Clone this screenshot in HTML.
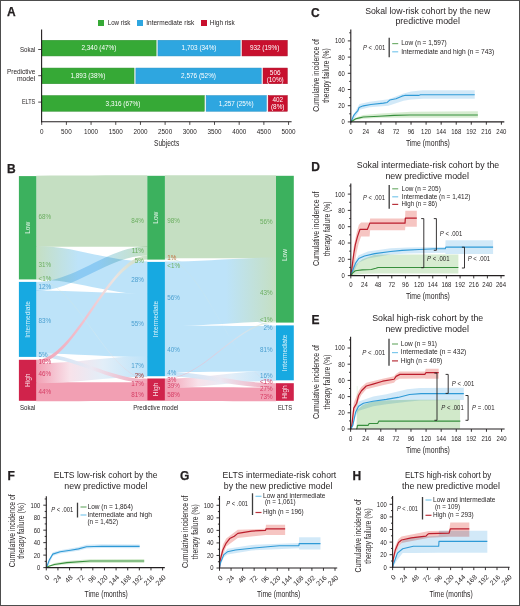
<!DOCTYPE html>
<html><head><meta charset="utf-8"><style>
html,body{margin:0;padding:0;background:#fff;}
svg{display:block;font-family:"Liberation Sans", sans-serif;}
</style></head><body>
<svg width="520" height="606" viewBox="0 0 520 606">
<defs><linearGradient id="g1" gradientUnits="userSpaceOnUse" x1="36.3" y1="0" x2="147.3" y2="0"><stop offset="0" stop-color="#c5dfc2"/><stop offset="1" stop-color="#c5dfc2"/></linearGradient><linearGradient id="g2" gradientUnits="userSpaceOnUse" x1="36.3" y1="0" x2="147.3" y2="0"><stop offset="0" stop-color="#bde3f9"/><stop offset="1" stop-color="#bde3f9"/></linearGradient><linearGradient id="g3" gradientUnits="userSpaceOnUse" x1="36.3" y1="0" x2="147.3" y2="0"><stop offset="0" stop-color="#f29fb3"/><stop offset="1" stop-color="#f29fb3"/></linearGradient><linearGradient id="g4" gradientUnits="userSpaceOnUse" x1="36.3" y1="0" x2="147.3" y2="0"><stop offset="0" stop-color="#c5dfc2"/><stop offset="0.38" stop-color="#bde3f9"/><stop offset="1" stop-color="#bde3f9"/></linearGradient><linearGradient id="g5" gradientUnits="userSpaceOnUse" x1="36.3" y1="0" x2="147.3" y2="0"><stop offset="0" stop-color="#bde3f9"/><stop offset="0.55" stop-color="#bde3f9"/><stop offset="1" stop-color="#c5dfc2"/></linearGradient><linearGradient id="g6" gradientUnits="userSpaceOnUse" x1="36.3" y1="0" x2="147.3" y2="0"><stop offset="0" stop-color="#f29fb3"/><stop offset="0.3" stop-color="#f8e2ea"/><stop offset="0.6" stop-color="#e2eef8"/><stop offset="1" stop-color="#bde3f9"/></linearGradient><linearGradient id="g7" gradientUnits="userSpaceOnUse" x1="36.3" y1="0" x2="147.3" y2="0"><stop offset="0" stop-color="#bde3f9"/><stop offset="0.5" stop-color="#ebe8f2"/><stop offset="1" stop-color="#f29fb3"/></linearGradient><linearGradient id="g8" gradientUnits="userSpaceOnUse" x1="36.3" y1="0" x2="147.3" y2="0"><stop offset="0" stop-color="#f29fb3"/><stop offset="0.45" stop-color="#f4c0cc"/><stop offset="0.7" stop-color="#eee4e0"/><stop offset="1" stop-color="#c5dfc2"/></linearGradient><linearGradient id="g9" gradientUnits="userSpaceOnUse" x1="36.3" y1="0" x2="147.3" y2="0"><stop offset="0" stop-color="#c5dfc2"/><stop offset="0.6" stop-color="#eeeee6"/><stop offset="1" stop-color="#f29fb3"/></linearGradient><linearGradient id="g10" gradientUnits="userSpaceOnUse" x1="164.9" y1="0" x2="276.0" y2="0"><stop offset="0" stop-color="#c5dfc2"/><stop offset="1" stop-color="#c5dfc2"/></linearGradient><linearGradient id="g11" gradientUnits="userSpaceOnUse" x1="164.9" y1="0" x2="276.0" y2="0"><stop offset="0" stop-color="#bde3f9"/><stop offset="1" stop-color="#bde3f9"/></linearGradient><linearGradient id="g12" gradientUnits="userSpaceOnUse" x1="164.9" y1="0" x2="276.0" y2="0"><stop offset="0" stop-color="#f29fb3"/><stop offset="1" stop-color="#f29fb3"/></linearGradient><linearGradient id="g13" gradientUnits="userSpaceOnUse" x1="164.9" y1="0" x2="276.0" y2="0"><stop offset="0" stop-color="#c5dfc2"/><stop offset="0.38" stop-color="#bde3f9"/><stop offset="1" stop-color="#bde3f9"/></linearGradient><linearGradient id="g14" gradientUnits="userSpaceOnUse" x1="164.9" y1="0" x2="276.0" y2="0"><stop offset="0" stop-color="#bde3f9"/><stop offset="0.55" stop-color="#bde3f9"/><stop offset="1" stop-color="#c5dfc2"/></linearGradient><linearGradient id="g15" gradientUnits="userSpaceOnUse" x1="164.9" y1="0" x2="276.0" y2="0"><stop offset="0" stop-color="#f29fb3"/><stop offset="0.3" stop-color="#f8e2ea"/><stop offset="0.6" stop-color="#e2eef8"/><stop offset="1" stop-color="#bde3f9"/></linearGradient><linearGradient id="g16" gradientUnits="userSpaceOnUse" x1="164.9" y1="0" x2="276.0" y2="0"><stop offset="0" stop-color="#bde3f9"/><stop offset="0.5" stop-color="#ebe8f2"/><stop offset="1" stop-color="#f29fb3"/></linearGradient><linearGradient id="g17" gradientUnits="userSpaceOnUse" x1="164.9" y1="0" x2="276.0" y2="0"><stop offset="0" stop-color="#f29fb3"/><stop offset="0.45" stop-color="#f4c0cc"/><stop offset="0.7" stop-color="#eee4e0"/><stop offset="1" stop-color="#c5dfc2"/></linearGradient><linearGradient id="g18" gradientUnits="userSpaceOnUse" x1="164.9" y1="0" x2="276.0" y2="0"><stop offset="0" stop-color="#c5dfc2"/><stop offset="0.6" stop-color="#eeeee6"/><stop offset="1" stop-color="#f29fb3"/></linearGradient></defs>
<rect x="0" y="0" width="520" height="606" fill="#fff"/>
<text x="7.00" y="16.30" font-size="12" fill="#231f20" text-anchor="start" font-weight="bold" stroke="#231f20" stroke-width="0.25">A</text>
<rect x="98" y="20" width="6" height="6" fill="#36a936"/>
<text x="107.70" y="25.40" font-size="6.8" fill="#231f20" text-anchor="start" textLength="22.70" lengthAdjust="spacingAndGlyphs">Low risk</text>
<rect x="137" y="20" width="6" height="6" fill="#2ea6e0"/>
<text x="146.20" y="25.40" font-size="6.8" fill="#231f20" text-anchor="start" textLength="48.20" lengthAdjust="spacingAndGlyphs">Intermediate risk</text>
<rect x="201" y="20" width="6" height="6" fill="#c8102e"/>
<text x="209.80" y="25.40" font-size="6.8" fill="#231f20" text-anchor="start" textLength="25.00" lengthAdjust="spacingAndGlyphs">High risk</text>
<rect x="41.70" y="40.25" width="114.43" height="15.7" fill="#36a936" stroke="#2e8f2e" stroke-width="0.5"/>
<text x="98.91" y="50.20" font-size="6.4" fill="#fff" text-anchor="middle" textLength="34.86" lengthAdjust="spacingAndGlyphs">2,340 (47%)</text>
<rect x="157.93" y="40.25" width="82.28" height="15.7" fill="#2ea6e0" stroke="#2590c4" stroke-width="0.5"/>
<text x="199.06" y="50.20" font-size="6.4" fill="#fff" text-anchor="middle" textLength="34.86" lengthAdjust="spacingAndGlyphs">1,703 (34%)</text>
<rect x="242.00" y="40.25" width="45.31" height="15.7" fill="#c8102e" stroke="#a80d27" stroke-width="0.5"/>
<text x="264.66" y="50.20" font-size="6.4" fill="#fff" text-anchor="middle" textLength="29.53" lengthAdjust="spacingAndGlyphs">932 (19%)</text>
<line x1="38.2" y1="49.5" x2="41.5" y2="49.5" stroke="#231f20" stroke-width="0.8"/>
<text x="35.30" y="51.70" font-size="7" fill="#231f20" text-anchor="end" textLength="15.40" lengthAdjust="spacingAndGlyphs">Sokal</text>
<rect x="41.70" y="68.05" width="92.36" height="15.7" fill="#36a936" stroke="#2e8f2e" stroke-width="0.5"/>
<text x="87.88" y="78.00" font-size="6.4" fill="#fff" text-anchor="middle" textLength="34.86" lengthAdjust="spacingAndGlyphs">1,893 (38%)</text>
<rect x="135.86" y="68.05" width="125.38" height="15.7" fill="#2ea6e0" stroke="#2590c4" stroke-width="0.5"/>
<text x="198.55" y="78.00" font-size="6.4" fill="#fff" text-anchor="middle" textLength="34.86" lengthAdjust="spacingAndGlyphs">2,576 (52%)</text>
<rect x="263.03" y="68.05" width="24.28" height="15.7" fill="#c8102e" stroke="#a80d27" stroke-width="0.5"/>
<text x="275.18" y="74.80" font-size="6.4" fill="#fff" text-anchor="middle">506</text>
<text x="275.18" y="81.80" font-size="6.4" fill="#fff" text-anchor="middle">(10%)</text>
<line x1="38.2" y1="75.7" x2="41.5" y2="75.7" stroke="#231f20" stroke-width="0.8"/>
<text x="35.40" y="73.90" font-size="7" fill="#231f20" text-anchor="end" textLength="28.50" lengthAdjust="spacingAndGlyphs">Predictive</text>
<text x="35.40" y="81.20" font-size="7" fill="#231f20" text-anchor="end" textLength="18.50" lengthAdjust="spacingAndGlyphs">model</text>
<rect x="41.70" y="95.55" width="162.61" height="15.7" fill="#36a936" stroke="#2e8f2e" stroke-width="0.5"/>
<text x="123.01" y="105.50" font-size="6.4" fill="#fff" text-anchor="middle" textLength="34.86" lengthAdjust="spacingAndGlyphs">3,316 (67%)</text>
<rect x="206.11" y="95.55" width="60.26" height="15.7" fill="#2ea6e0" stroke="#2590c4" stroke-width="0.5"/>
<text x="236.24" y="105.50" font-size="6.4" fill="#fff" text-anchor="middle" textLength="34.86" lengthAdjust="spacingAndGlyphs">1,257 (25%)</text>
<rect x="268.17" y="95.55" width="19.15" height="15.7" fill="#c8102e" stroke="#a80d27" stroke-width="0.5"/>
<text x="277.74" y="102.30" font-size="6.4" fill="#fff" text-anchor="middle">402</text>
<text x="277.74" y="109.30" font-size="6.4" fill="#fff" text-anchor="middle">(8%)</text>
<line x1="38.2" y1="102.1" x2="41.5" y2="102.1" stroke="#231f20" stroke-width="0.8"/>
<text x="35.30" y="103.80" font-size="7" fill="#231f20" text-anchor="end" textLength="13.40" lengthAdjust="spacingAndGlyphs">ELTS</text>
<line x1="41.6" y1="29.6" x2="41.6" y2="122.3" stroke="#231f20" stroke-width="1.1"/>
<line x1="41" y1="121.8" x2="291.6" y2="121.8" stroke="#231f20" stroke-width="1.1"/>
<line x1="41.70" y1="121.8" x2="41.70" y2="124.9" stroke="#231f20" stroke-width="0.8"/>
<text x="41.70" y="133.60" font-size="6.6" fill="#231f20" text-anchor="middle" textLength="3.52" lengthAdjust="spacingAndGlyphs">0</text>
<line x1="66.39" y1="121.8" x2="66.39" y2="124.9" stroke="#231f20" stroke-width="0.8"/>
<text x="66.39" y="133.60" font-size="6.6" fill="#231f20" text-anchor="middle" textLength="10.57" lengthAdjust="spacingAndGlyphs">500</text>
<line x1="91.07" y1="121.8" x2="91.07" y2="124.9" stroke="#231f20" stroke-width="0.8"/>
<text x="91.07" y="133.60" font-size="6.6" fill="#231f20" text-anchor="middle" textLength="14.09" lengthAdjust="spacingAndGlyphs">1000</text>
<line x1="115.75" y1="121.8" x2="115.75" y2="124.9" stroke="#231f20" stroke-width="0.8"/>
<text x="115.75" y="133.60" font-size="6.6" fill="#231f20" text-anchor="middle" textLength="14.09" lengthAdjust="spacingAndGlyphs">1500</text>
<line x1="140.44" y1="121.8" x2="140.44" y2="124.9" stroke="#231f20" stroke-width="0.8"/>
<text x="140.44" y="133.60" font-size="6.6" fill="#231f20" text-anchor="middle" textLength="14.09" lengthAdjust="spacingAndGlyphs">2000</text>
<line x1="165.12" y1="121.8" x2="165.12" y2="124.9" stroke="#231f20" stroke-width="0.8"/>
<text x="165.12" y="133.60" font-size="6.6" fill="#231f20" text-anchor="middle" textLength="14.09" lengthAdjust="spacingAndGlyphs">2500</text>
<line x1="189.81" y1="121.8" x2="189.81" y2="124.9" stroke="#231f20" stroke-width="0.8"/>
<text x="189.81" y="133.60" font-size="6.6" fill="#231f20" text-anchor="middle" textLength="14.09" lengthAdjust="spacingAndGlyphs">3000</text>
<line x1="214.50" y1="121.8" x2="214.50" y2="124.9" stroke="#231f20" stroke-width="0.8"/>
<text x="214.50" y="133.60" font-size="6.6" fill="#231f20" text-anchor="middle" textLength="14.09" lengthAdjust="spacingAndGlyphs">3500</text>
<line x1="239.18" y1="121.8" x2="239.18" y2="124.9" stroke="#231f20" stroke-width="0.8"/>
<text x="239.18" y="133.60" font-size="6.6" fill="#231f20" text-anchor="middle" textLength="14.09" lengthAdjust="spacingAndGlyphs">4000</text>
<line x1="263.87" y1="121.8" x2="263.87" y2="124.9" stroke="#231f20" stroke-width="0.8"/>
<text x="263.87" y="133.60" font-size="6.6" fill="#231f20" text-anchor="middle" textLength="14.09" lengthAdjust="spacingAndGlyphs">4500</text>
<line x1="288.55" y1="121.8" x2="288.55" y2="124.9" stroke="#231f20" stroke-width="0.8"/>
<text x="288.55" y="133.60" font-size="6.6" fill="#231f20" text-anchor="middle" textLength="14.09" lengthAdjust="spacingAndGlyphs">5000</text>
<text x="166.60" y="145.80" font-size="8.7" fill="#231f20" text-anchor="middle" textLength="25.20" lengthAdjust="spacingAndGlyphs">Subjects</text>
<text x="7.00" y="172.80" font-size="12" fill="#231f20" text-anchor="start" font-weight="bold" stroke="#231f20" stroke-width="0.25">B</text>
<path d="M36.3,175.65 C75.15,175.65 108.45,175.35 147.3,175.35 L147.3,246.64 C108.45,246.64 75.15,246.79 36.3,246.79 Z" fill="url(#g1)"/>
<path d="M36.3,290.45 C75.15,290.45 108.45,293.45 147.3,293.45 L147.3,357.22 C108.45,357.22 75.15,353.60 36.3,353.60 Z" fill="url(#g2)"/>
<path d="M36.3,382.31 C75.15,382.31 108.45,382.25 147.3,382.25 L147.3,401.05 C108.45,401.05 75.15,401.25 36.3,401.25 Z" fill="url(#g3)"/>
<path d="M36.3,245.89 C75.15,245.89 108.45,261.45 147.3,261.45 L147.3,294.35 C108.45,294.35 75.15,279.54 36.3,279.54 Z" fill="url(#g4)"/>
<path d="M36.3,281.90 C75.15,281.90 108.45,246.19 147.3,246.19 L147.3,255.41 C108.45,255.41 75.15,290.90 36.3,290.90 Z" fill="url(#g5)" style="mix-blend-mode:multiply"/>
<path d="M36.3,363.45 C75.15,363.45 108.45,356.32 147.3,356.32 L147.3,376.65 C108.45,376.65 75.15,383.21 36.3,383.21 Z" fill="url(#g6)"/>
<path d="M36.3,353.15 C75.15,353.15 108.45,378.94 147.3,378.94 L147.3,382.70 C108.45,382.70 75.15,356.90 36.3,356.90 Z" fill="url(#g7)" fill-opacity="0.95"/>
<path d="M36.3,359.80 C75.15,359.80 108.45,255.41 147.3,255.41 L147.3,259.60 C108.45,259.60 75.15,363.90 36.3,363.90 Z" fill="url(#g8)" fill-opacity="0.95"/>
<path d="M36.3,279.09 C75.15,279.09 108.45,378.50 147.3,378.50 L147.3,378.94 C108.45,378.94 75.15,279.40 36.3,279.40 Z" fill="url(#g9)" fill-opacity="0.55"/>
<path d="M164.9,175.35 C203.78,175.35 237.12,175.35 276.0,175.35 L276.0,258.46 C237.12,258.46 203.78,258.37 164.9,258.37 Z" fill="url(#g10)"/>
<path d="M164.9,325.46 C203.78,325.46 237.12,326.05 276.0,326.05 L276.0,371.42 C237.12,371.42 203.78,372.08 164.9,372.08 Z" fill="url(#g11)"/>
<path d="M164.9,387.33 C203.78,387.33 237.12,387.50 276.0,387.50 L276.0,401.25 C237.12,401.25 203.78,401.05 164.9,401.05 Z" fill="url(#g12)"/>
<path d="M164.9,257.92 C203.78,257.92 237.12,325.40 276.0,325.40 L276.0,326.50 C237.12,326.50 203.78,258.93 164.9,258.93 Z" fill="url(#g13)" fill-opacity="0.55"/>
<path d="M164.9,261.45 C203.78,261.45 237.12,257.56 276.0,257.56 L276.0,321.58 C237.12,321.58 203.78,326.36 164.9,326.36 Z" fill="url(#g14)"/>
<path d="M164.9,378.71 C203.78,378.71 237.12,370.52 276.0,370.52 L276.0,380.75 C237.12,380.75 203.78,388.23 164.9,388.23 Z" fill="url(#g15)"/>
<path d="M164.9,371.63 C203.78,371.63 237.12,383.29 276.0,383.29 L276.0,387.95 C237.12,387.95 203.78,376.20 164.9,376.20 Z" fill="url(#g16)" fill-opacity="0.95"/>
<path d="M164.9,378.50 C203.78,378.50 237.12,321.13 276.0,321.13 L276.0,322.60 C237.12,322.60 203.78,379.16 164.9,379.16 Z" fill="url(#g17)" fill-opacity="0.55"/>
<path d="M164.9,258.93 C203.78,258.93 237.12,383.20 276.0,383.20 L276.0,383.29 C237.12,383.29 203.78,259.60 164.9,259.60 Z" fill="url(#g18)" fill-opacity="0.55"/>
<rect x="18.9" y="176.1" width="17.40" height="103.30" fill="#3cb15e"/>
<text transform="translate(29.70,227.75) rotate(-90)" font-size="6.6" fill="#fff" fill-opacity="0.85" text-anchor="middle">Low</text>
<rect x="18.9" y="281.9" width="17.40" height="75.00" fill="#17a9e1"/>
<text transform="translate(29.70,319.40) rotate(-90)" font-size="6.6" fill="#fff" fill-opacity="0.85" text-anchor="middle">Intermediate</text>
<rect x="18.9" y="359.8" width="17.40" height="41.00" fill="#d0234b"/>
<text transform="translate(29.70,380.30) rotate(-90)" font-size="6.6" fill="#fff" fill-opacity="0.85" text-anchor="middle">High</text>
<rect x="147.3" y="175.8" width="17.60" height="83.80" fill="#3cb15e"/>
<text transform="translate(158.20,217.70) rotate(-90)" font-size="6.6" fill="#fff" fill-opacity="0.85" text-anchor="middle">Low</text>
<rect x="147.3" y="261.9" width="17.60" height="114.30" fill="#17a9e1"/>
<text transform="translate(158.20,319.05) rotate(-90)" font-size="6.6" fill="#fff" fill-opacity="0.85" text-anchor="middle">Intermediate</text>
<rect x="147.3" y="378.5" width="17.60" height="22.10" fill="#d0234b"/>
<text transform="translate(158.20,389.55) rotate(-90)" font-size="6.6" fill="#fff" fill-opacity="0.85" text-anchor="middle">High</text>
<rect x="276.0" y="175.8" width="17.80" height="146.80" fill="#3cb15e"/>
<text transform="translate(287.00,255.00) rotate(-90)" font-size="6.6" fill="#fff" fill-opacity="0.85" text-anchor="middle">Low</text>
<rect x="276.0" y="325.4" width="17.80" height="54.90" fill="#17a9e1"/>
<text transform="translate(287.00,352.85) rotate(-90)" font-size="6.6" fill="#fff" fill-opacity="0.85" text-anchor="middle">Intermediate</text>
<rect x="276.0" y="383.2" width="17.80" height="17.60" fill="#d0234b"/>
<text transform="translate(287.00,392.00) rotate(-90)" font-size="6.6" fill="#fff" fill-opacity="0.85" text-anchor="middle">High</text>
<text x="27.60" y="409.60" font-size="6.8" fill="#231f20" text-anchor="middle" textLength="15.31" lengthAdjust="spacingAndGlyphs">Sokal</text>
<text x="155.80" y="409.60" font-size="6.8" fill="#231f20" text-anchor="middle" textLength="45.24" lengthAdjust="spacingAndGlyphs">Predictive model</text>
<text x="285.00" y="409.60" font-size="6.8" fill="#231f20" text-anchor="middle" textLength="14.03" lengthAdjust="spacingAndGlyphs">ELTS</text>
<text x="38.60" y="218.70" font-size="6.3" fill="#6aae5f" text-anchor="start" textLength="12.61" lengthAdjust="spacingAndGlyphs">68%</text>
<text x="38.60" y="266.60" font-size="6.3" fill="#6aae5f" text-anchor="start" textLength="12.61" lengthAdjust="spacingAndGlyphs">31%</text>
<text x="38.60" y="281.40" font-size="6.3" fill="#6aae5f" text-anchor="start" textLength="12.79" lengthAdjust="spacingAndGlyphs">&lt;1%</text>
<text x="38.60" y="289.30" font-size="6.3" fill="#4a9fd0" text-anchor="start" textLength="12.61" lengthAdjust="spacingAndGlyphs">12%</text>
<text x="38.60" y="322.70" font-size="6.3" fill="#4a9fd0" text-anchor="start" textLength="12.61" lengthAdjust="spacingAndGlyphs">83%</text>
<text x="38.60" y="357.30" font-size="6.3" fill="#4a9fd0" text-anchor="start" textLength="9.11" lengthAdjust="spacingAndGlyphs">5%</text>
<text x="38.60" y="364.20" font-size="6.3" fill="#d63c63" text-anchor="start" textLength="12.61" lengthAdjust="spacingAndGlyphs">10%</text>
<text x="38.60" y="375.90" font-size="6.3" fill="#d63c63" text-anchor="start" textLength="12.61" lengthAdjust="spacingAndGlyphs">46%</text>
<text x="38.60" y="394.10" font-size="6.3" fill="#d63c63" text-anchor="start" textLength="12.61" lengthAdjust="spacingAndGlyphs">44%</text>
<text x="143.90" y="222.80" font-size="6.3" fill="#6aae5f" text-anchor="end" textLength="12.61" lengthAdjust="spacingAndGlyphs">84%</text>
<text x="143.90" y="252.50" font-size="6.3" fill="#6aae5f" text-anchor="end" textLength="12.14" lengthAdjust="spacingAndGlyphs">11%</text>
<text x="143.90" y="262.90" font-size="6.3" fill="#6aae5f" text-anchor="end" textLength="9.11" lengthAdjust="spacingAndGlyphs">5%</text>
<text x="143.90" y="282.20" font-size="6.3" fill="#4a9fd0" text-anchor="end" textLength="12.61" lengthAdjust="spacingAndGlyphs">28%</text>
<text x="143.90" y="325.60" font-size="6.3" fill="#4a9fd0" text-anchor="end" textLength="12.61" lengthAdjust="spacingAndGlyphs">55%</text>
<text x="143.90" y="368.10" font-size="6.3" fill="#4a9fd0" text-anchor="end" textLength="12.61" lengthAdjust="spacingAndGlyphs">17%</text>
<text x="143.90" y="377.60" font-size="6.3" fill="#a0322e" text-anchor="end" textLength="9.11" lengthAdjust="spacingAndGlyphs">2%</text>
<text x="143.90" y="385.70" font-size="6.3" fill="#d63c63" text-anchor="end" textLength="12.61" lengthAdjust="spacingAndGlyphs">17%</text>
<text x="143.90" y="396.70" font-size="6.3" fill="#d63c63" text-anchor="end" textLength="12.61" lengthAdjust="spacingAndGlyphs">81%</text>
<text x="167.30" y="223.30" font-size="6.3" fill="#6aae5f" text-anchor="start" textLength="12.61" lengthAdjust="spacingAndGlyphs">98%</text>
<text x="167.30" y="260.30" font-size="6.3" fill="#c07040" text-anchor="start" textLength="9.11" lengthAdjust="spacingAndGlyphs">1%</text>
<text x="167.30" y="267.90" font-size="6.3" fill="#6aae5f" text-anchor="start" textLength="12.79" lengthAdjust="spacingAndGlyphs">&lt;1%</text>
<text x="167.30" y="299.60" font-size="6.3" fill="#4a9fd0" text-anchor="start" textLength="12.61" lengthAdjust="spacingAndGlyphs">56%</text>
<text x="167.30" y="352.10" font-size="6.3" fill="#4a9fd0" text-anchor="start" textLength="12.61" lengthAdjust="spacingAndGlyphs">40%</text>
<text x="167.30" y="375.30" font-size="6.3" fill="#4a9fd0" text-anchor="start" textLength="9.11" lengthAdjust="spacingAndGlyphs">4%</text>
<text x="167.30" y="382.30" font-size="6.3" fill="#d63c63" text-anchor="start" textLength="9.11" lengthAdjust="spacingAndGlyphs">3%</text>
<text x="167.30" y="388.30" font-size="6.3" fill="#d63c63" text-anchor="start" textLength="12.61" lengthAdjust="spacingAndGlyphs">39%</text>
<text x="167.30" y="396.70" font-size="6.3" fill="#d63c63" text-anchor="start" textLength="12.61" lengthAdjust="spacingAndGlyphs">58%</text>
<text x="272.70" y="223.70" font-size="6.3" fill="#6aae5f" text-anchor="end" textLength="12.61" lengthAdjust="spacingAndGlyphs">56%</text>
<text x="272.70" y="294.90" font-size="6.3" fill="#6aae5f" text-anchor="end" textLength="12.61" lengthAdjust="spacingAndGlyphs">43%</text>
<text x="272.70" y="321.70" font-size="6.3" fill="#6aae5f" text-anchor="end" textLength="12.79" lengthAdjust="spacingAndGlyphs">&lt;1%</text>
<text x="272.70" y="330.20" font-size="6.3" fill="#4a9fd0" text-anchor="end" textLength="9.11" lengthAdjust="spacingAndGlyphs">2%</text>
<text x="272.70" y="351.80" font-size="6.3" fill="#4a9fd0" text-anchor="end" textLength="12.61" lengthAdjust="spacingAndGlyphs">81%</text>
<text x="272.70" y="377.60" font-size="6.3" fill="#4a9fd0" text-anchor="end" textLength="12.61" lengthAdjust="spacingAndGlyphs">16%</text>
<text x="272.70" y="384.20" font-size="6.3" fill="#d63c63" text-anchor="end" textLength="12.79" lengthAdjust="spacingAndGlyphs">&lt;1%</text>
<text x="272.70" y="391.10" font-size="6.3" fill="#d63c63" text-anchor="end" textLength="12.61" lengthAdjust="spacingAndGlyphs">27%</text>
<text x="272.70" y="399.00" font-size="6.3" fill="#d63c63" text-anchor="end" textLength="12.61" lengthAdjust="spacingAndGlyphs">73%</text>
<text x="311.00" y="16.50" font-size="12" fill="#231f20" text-anchor="start" font-weight="bold" stroke="#231f20" stroke-width="0.25">C</text>
<text x="427.70" y="14.30" font-size="9" fill="#231f20" text-anchor="middle" textLength="125.00" lengthAdjust="spacingAndGlyphs">Sokal low-risk cohort by the new</text>
<text x="427.70" y="24.30" font-size="9" fill="#231f20" text-anchor="middle" textLength="64.50" lengthAdjust="spacingAndGlyphs">predictive model</text>
<path d="M350.80,121.90 L353.31,115.42 L357.07,108.13 L359.59,104.08 L369.62,101.65 L388.45,99.22 L403.51,93.55 L411.04,91.53 L422.96,90.31 L474.73,90.31 L474.73,98.81 L422.96,98.81 L411.04,99.62 L403.51,100.84 L388.45,105.70 L369.62,107.32 L359.59,109.75 L357.07,114.61 L353.31,120.28 L350.80,121.90 Z" fill="#c3e2f6" fill-opacity="0.75" style="mix-blend-mode:multiply"/>
<path d="M350.80,121.90 L355.82,117.45 L363.35,115.02 L380.92,113.40 L411.04,111.78 L477.87,111.21 L477.87,117.85 L411.04,117.85 L380.92,117.85 L363.35,118.82 L355.82,119.88 L350.80,121.90 Z" fill="#c9e5c1" fill-opacity="0.75" style="mix-blend-mode:multiply"/>
<polyline points="350.80,121.90 352.06,119.47 353.31,116.23 354.25,114.61 355.82,112.99 357.70,110.97 358.96,107.73 359.59,107.32 363.35,105.86 370.88,104.48 383.43,103.11 387.19,102.46 389.70,100.03 395.98,98.81 401.94,96.14 404.76,95.41 418.57,95.41 420.45,94.77 474.73,94.77" fill="none" stroke="#2f9ad6" stroke-width="1.1" stroke-linejoin="round"/>
<polyline points="350.80,121.90 352.68,120.69 355.82,118.82 359.59,117.85 363.35,117.04 379.04,116.23 394.10,115.42 409.79,114.93 477.87,114.93" fill="none" stroke="#378f3d" stroke-width="1.1" stroke-linejoin="round"/>
<line x1="350.8" y1="29.6" x2="350.8" y2="122.4" stroke="#231f20" stroke-width="1.1"/>
<line x1="350.3" y1="121.9" x2="504.3" y2="121.9" stroke="#231f20" stroke-width="1.1"/>
<line x1="347.80" y1="121.90" x2="350.8" y2="121.90" stroke="#231f20" stroke-width="0.9"/>
<text x="344.90" y="124.30" font-size="6.7" fill="#231f20" text-anchor="end" textLength="3.28" lengthAdjust="spacingAndGlyphs">0</text>
<line x1="349.20" y1="113.80" x2="350.8" y2="113.80" stroke="#231f20" stroke-width="0.9"/>
<line x1="347.80" y1="105.70" x2="350.8" y2="105.70" stroke="#231f20" stroke-width="0.9"/>
<text x="344.90" y="108.10" font-size="6.7" fill="#231f20" text-anchor="end" textLength="6.56" lengthAdjust="spacingAndGlyphs">20</text>
<line x1="349.20" y1="97.60" x2="350.8" y2="97.60" stroke="#231f20" stroke-width="0.9"/>
<line x1="347.80" y1="89.50" x2="350.8" y2="89.50" stroke="#231f20" stroke-width="0.9"/>
<text x="344.90" y="91.90" font-size="6.7" fill="#231f20" text-anchor="end" textLength="6.56" lengthAdjust="spacingAndGlyphs">40</text>
<line x1="349.20" y1="81.40" x2="350.8" y2="81.40" stroke="#231f20" stroke-width="0.9"/>
<line x1="347.80" y1="73.30" x2="350.8" y2="73.30" stroke="#231f20" stroke-width="0.9"/>
<text x="344.90" y="75.70" font-size="6.7" fill="#231f20" text-anchor="end" textLength="6.56" lengthAdjust="spacingAndGlyphs">60</text>
<line x1="349.20" y1="65.20" x2="350.8" y2="65.20" stroke="#231f20" stroke-width="0.9"/>
<line x1="347.80" y1="57.10" x2="350.8" y2="57.10" stroke="#231f20" stroke-width="0.9"/>
<text x="344.90" y="59.50" font-size="6.7" fill="#231f20" text-anchor="end" textLength="6.56" lengthAdjust="spacingAndGlyphs">80</text>
<line x1="349.20" y1="49.00" x2="350.8" y2="49.00" stroke="#231f20" stroke-width="0.9"/>
<line x1="347.80" y1="40.90" x2="350.8" y2="40.90" stroke="#231f20" stroke-width="0.9"/>
<text x="344.90" y="43.30" font-size="6.7" fill="#231f20" text-anchor="end" textLength="9.84" lengthAdjust="spacingAndGlyphs">100</text>
<line x1="349.20" y1="32.80" x2="350.8" y2="32.80" stroke="#231f20" stroke-width="0.9"/>
<line x1="350.80" y1="121.9" x2="350.80" y2="124.70" stroke="#231f20" stroke-width="0.9"/>
<text x="350.80" y="133.60" font-size="6.7" fill="#231f20" text-anchor="middle" textLength="3.35" lengthAdjust="spacingAndGlyphs">0</text>
<line x1="365.86" y1="121.9" x2="365.86" y2="124.70" stroke="#231f20" stroke-width="0.9"/>
<text x="365.86" y="133.60" font-size="6.7" fill="#231f20" text-anchor="middle" textLength="6.71" lengthAdjust="spacingAndGlyphs">24</text>
<line x1="380.92" y1="121.9" x2="380.92" y2="124.70" stroke="#231f20" stroke-width="0.9"/>
<text x="380.92" y="133.60" font-size="6.7" fill="#231f20" text-anchor="middle" textLength="6.71" lengthAdjust="spacingAndGlyphs">48</text>
<line x1="395.98" y1="121.9" x2="395.98" y2="124.70" stroke="#231f20" stroke-width="0.9"/>
<text x="395.98" y="133.60" font-size="6.7" fill="#231f20" text-anchor="middle" textLength="6.71" lengthAdjust="spacingAndGlyphs">72</text>
<line x1="411.04" y1="121.9" x2="411.04" y2="124.70" stroke="#231f20" stroke-width="0.9"/>
<text x="411.04" y="133.60" font-size="6.7" fill="#231f20" text-anchor="middle" textLength="6.71" lengthAdjust="spacingAndGlyphs">96</text>
<line x1="426.10" y1="121.9" x2="426.10" y2="124.70" stroke="#231f20" stroke-width="0.9"/>
<text x="426.10" y="133.60" font-size="6.7" fill="#231f20" text-anchor="middle" textLength="10.06" lengthAdjust="spacingAndGlyphs">120</text>
<line x1="441.16" y1="121.9" x2="441.16" y2="124.70" stroke="#231f20" stroke-width="0.9"/>
<text x="441.16" y="133.60" font-size="6.7" fill="#231f20" text-anchor="middle" textLength="10.06" lengthAdjust="spacingAndGlyphs">144</text>
<line x1="456.22" y1="121.9" x2="456.22" y2="124.70" stroke="#231f20" stroke-width="0.9"/>
<text x="456.22" y="133.60" font-size="6.7" fill="#231f20" text-anchor="middle" textLength="10.06" lengthAdjust="spacingAndGlyphs">168</text>
<line x1="471.28" y1="121.9" x2="471.28" y2="124.70" stroke="#231f20" stroke-width="0.9"/>
<text x="471.28" y="133.60" font-size="6.7" fill="#231f20" text-anchor="middle" textLength="10.06" lengthAdjust="spacingAndGlyphs">192</text>
<line x1="486.34" y1="121.9" x2="486.34" y2="124.70" stroke="#231f20" stroke-width="0.9"/>
<text x="486.34" y="133.60" font-size="6.7" fill="#231f20" text-anchor="middle" textLength="10.06" lengthAdjust="spacingAndGlyphs">216</text>
<line x1="501.40" y1="121.9" x2="501.40" y2="124.70" stroke="#231f20" stroke-width="0.9"/>
<text x="501.40" y="133.60" font-size="6.7" fill="#231f20" text-anchor="middle" textLength="10.06" lengthAdjust="spacingAndGlyphs">240</text>
<text transform="translate(319.20,75.50) rotate(-90)" font-size="8.8" fill="#231f20" text-anchor="middle" textLength="72.7" lengthAdjust="spacingAndGlyphs">Cumulative incidence of</text>
<text transform="translate(329.20,75.50) rotate(-90)" font-size="8.8" fill="#231f20" text-anchor="middle" textLength="54.5" lengthAdjust="spacingAndGlyphs">therapy failure (%)</text>
<text x="427.90" y="145.60" font-size="8.4" fill="#231f20" text-anchor="middle" textLength="44.00" lengthAdjust="spacingAndGlyphs">Time (months)</text>
<text x="362.90" y="49.90" font-size="6.4" fill="#231f20" text-anchor="start" textLength="22.40" lengthAdjust="spacingAndGlyphs"><tspan font-style="italic">P</tspan> &lt; .001</text>
<line x1="389.2" y1="37.8" x2="389.2" y2="57.2" stroke="#3c3c3c" stroke-width="1.3"/>
<line x1="392.20" y1="43.60" x2="398.20" y2="43.60" stroke="#74b070" stroke-width="1.2"/>
<text x="401.20" y="45.40" font-size="6.4" fill="#231f20" text-anchor="start" textLength="45.50" lengthAdjust="spacingAndGlyphs">Low (n = 1,597)</text>
<line x1="392.20" y1="51.80" x2="398.20" y2="51.80" stroke="#7cc8ec" stroke-width="1.2"/>
<text x="401.20" y="53.60" font-size="6.4" fill="#231f20" text-anchor="start" textLength="93.10" lengthAdjust="spacingAndGlyphs">Intermediate and high (n = 743)</text>
<text x="311.30" y="170.70" font-size="12" fill="#231f20" text-anchor="start" font-weight="bold" stroke="#231f20" stroke-width="0.25">D</text>
<text x="428.00" y="168.30" font-size="9" fill="#231f20" text-anchor="middle" textLength="142.40" lengthAdjust="spacingAndGlyphs">Sokal intermediate-risk cohort by the</text>
<text x="427.20" y="178.70" font-size="9" fill="#231f20" text-anchor="middle" textLength="83.60" lengthAdjust="spacingAndGlyphs">new predictive model</text>
<path d="M350.80,275.60 L351.94,264.19 L353.65,247.08 L356.49,233.22 L358.77,225.07 L361.05,222.62 L369.58,222.62 L370.15,218.55 L405.04,218.55 L405.33,210.81 L416.82,210.81 L416.82,226.70 L405.33,226.70 L405.04,230.37 L370.15,230.37 L369.58,236.48 L361.05,236.48 L358.77,243.00 L356.49,252.78 L354.22,265.82 L352.51,275.60 L350.80,275.60 Z" fill="#f3b2ae" fill-opacity="0.75" style="mix-blend-mode:multiply"/>
<path d="M350.80,275.60 L353.08,266.63 L355.92,259.30 L358.77,255.23 L367.88,251.56 L390.64,248.30 L407.72,247.48 L445.28,247.08 L445.57,240.15 L493.09,240.15 L493.09,254.00 L445.57,254.00 L445.28,252.78 L407.72,253.60 L390.64,254.41 L367.88,258.49 L358.77,262.56 L355.92,267.45 L353.08,273.97 L350.80,275.60 Z" fill="#c3e2f6" fill-opacity="0.75" style="mix-blend-mode:multiply"/>
<path d="M350.80,275.60 L353.08,269.90 L356.21,264.19 L362.35,259.30 L374.71,254.82 L390.64,254.41 L458.37,254.41 L458.37,273.56 L378.12,273.56 L364.46,273.81 L356.49,274.38 L353.08,275.19 L350.80,275.60 Z" fill="#c9e5c1" fill-opacity="0.75" style="mix-blend-mode:multiply"/>
<polyline points="350.80,275.60 351.94,268.27 353.70,254.25 355.35,244.63 357.40,236.89 359.91,229.47 367.31,229.47 368.44,226.70 369.81,223.11 405.04,223.11 405.33,218.14 416.82,218.14" fill="none" stroke="#bb1d2c" stroke-width="1.2" stroke-linejoin="round"/>
<polyline points="350.80,275.60 352.51,270.71 355.92,262.56 358.77,258.49 364.46,256.04 374.71,253.60 390.64,251.56 402.03,250.34 419.10,249.52 436.18,248.71 445.28,248.71 445.85,247.08 493.09,247.08" fill="none" stroke="#2f9ad6" stroke-width="1.1" stroke-linejoin="round"/>
<polyline points="350.80,275.60 352.51,273.16 355.35,270.71 362.18,269.90 371.29,269.49 375.84,268.27 378.12,267.45 458.37,267.45" fill="none" stroke="#378f3d" stroke-width="1.1" stroke-linejoin="round"/>
<line x1="350.8" y1="183.6" x2="350.8" y2="276.1" stroke="#231f20" stroke-width="1.1"/>
<line x1="350.3" y1="275.6" x2="504.6" y2="275.6" stroke="#231f20" stroke-width="1.1"/>
<line x1="347.80" y1="275.60" x2="350.8" y2="275.60" stroke="#231f20" stroke-width="0.9"/>
<text x="344.90" y="278.00" font-size="6.7" fill="#231f20" text-anchor="end" textLength="3.28" lengthAdjust="spacingAndGlyphs">0</text>
<line x1="349.20" y1="267.45" x2="350.8" y2="267.45" stroke="#231f20" stroke-width="0.9"/>
<line x1="347.80" y1="259.30" x2="350.8" y2="259.30" stroke="#231f20" stroke-width="0.9"/>
<text x="344.90" y="261.70" font-size="6.7" fill="#231f20" text-anchor="end" textLength="6.56" lengthAdjust="spacingAndGlyphs">20</text>
<line x1="349.20" y1="251.15" x2="350.8" y2="251.15" stroke="#231f20" stroke-width="0.9"/>
<line x1="347.80" y1="243.00" x2="350.8" y2="243.00" stroke="#231f20" stroke-width="0.9"/>
<text x="344.90" y="245.40" font-size="6.7" fill="#231f20" text-anchor="end" textLength="6.56" lengthAdjust="spacingAndGlyphs">40</text>
<line x1="349.20" y1="234.85" x2="350.8" y2="234.85" stroke="#231f20" stroke-width="0.9"/>
<line x1="347.80" y1="226.70" x2="350.8" y2="226.70" stroke="#231f20" stroke-width="0.9"/>
<text x="344.90" y="229.10" font-size="6.7" fill="#231f20" text-anchor="end" textLength="6.56" lengthAdjust="spacingAndGlyphs">60</text>
<line x1="349.20" y1="218.55" x2="350.8" y2="218.55" stroke="#231f20" stroke-width="0.9"/>
<line x1="347.80" y1="210.40" x2="350.8" y2="210.40" stroke="#231f20" stroke-width="0.9"/>
<text x="344.90" y="212.80" font-size="6.7" fill="#231f20" text-anchor="end" textLength="6.56" lengthAdjust="spacingAndGlyphs">80</text>
<line x1="349.20" y1="202.25" x2="350.8" y2="202.25" stroke="#231f20" stroke-width="0.9"/>
<line x1="347.80" y1="194.10" x2="350.8" y2="194.10" stroke="#231f20" stroke-width="0.9"/>
<text x="344.90" y="196.50" font-size="6.7" fill="#231f20" text-anchor="end" textLength="9.84" lengthAdjust="spacingAndGlyphs">100</text>
<line x1="349.20" y1="185.95" x2="350.8" y2="185.95" stroke="#231f20" stroke-width="0.9"/>
<line x1="350.80" y1="275.6" x2="350.80" y2="278.40" stroke="#231f20" stroke-width="0.9"/>
<text x="350.80" y="287.30" font-size="6.7" fill="#231f20" text-anchor="middle" textLength="3.35" lengthAdjust="spacingAndGlyphs">0</text>
<line x1="364.46" y1="275.6" x2="364.46" y2="278.40" stroke="#231f20" stroke-width="0.9"/>
<text x="364.46" y="287.30" font-size="6.7" fill="#231f20" text-anchor="middle" textLength="6.71" lengthAdjust="spacingAndGlyphs">24</text>
<line x1="378.12" y1="275.6" x2="378.12" y2="278.40" stroke="#231f20" stroke-width="0.9"/>
<text x="378.12" y="287.30" font-size="6.7" fill="#231f20" text-anchor="middle" textLength="6.71" lengthAdjust="spacingAndGlyphs">48</text>
<line x1="391.78" y1="275.6" x2="391.78" y2="278.40" stroke="#231f20" stroke-width="0.9"/>
<text x="391.78" y="287.30" font-size="6.7" fill="#231f20" text-anchor="middle" textLength="6.71" lengthAdjust="spacingAndGlyphs">72</text>
<line x1="405.44" y1="275.6" x2="405.44" y2="278.40" stroke="#231f20" stroke-width="0.9"/>
<text x="405.44" y="287.30" font-size="6.7" fill="#231f20" text-anchor="middle" textLength="6.71" lengthAdjust="spacingAndGlyphs">96</text>
<line x1="419.10" y1="275.6" x2="419.10" y2="278.40" stroke="#231f20" stroke-width="0.9"/>
<text x="419.10" y="287.30" font-size="6.7" fill="#231f20" text-anchor="middle" textLength="10.06" lengthAdjust="spacingAndGlyphs">120</text>
<line x1="432.76" y1="275.6" x2="432.76" y2="278.40" stroke="#231f20" stroke-width="0.9"/>
<text x="432.76" y="287.30" font-size="6.7" fill="#231f20" text-anchor="middle" textLength="10.06" lengthAdjust="spacingAndGlyphs">144</text>
<line x1="446.42" y1="275.6" x2="446.42" y2="278.40" stroke="#231f20" stroke-width="0.9"/>
<text x="446.42" y="287.30" font-size="6.7" fill="#231f20" text-anchor="middle" textLength="10.06" lengthAdjust="spacingAndGlyphs">168</text>
<line x1="460.08" y1="275.6" x2="460.08" y2="278.40" stroke="#231f20" stroke-width="0.9"/>
<text x="460.08" y="287.30" font-size="6.7" fill="#231f20" text-anchor="middle" textLength="10.06" lengthAdjust="spacingAndGlyphs">192</text>
<line x1="473.74" y1="275.6" x2="473.74" y2="278.40" stroke="#231f20" stroke-width="0.9"/>
<text x="473.74" y="287.30" font-size="6.7" fill="#231f20" text-anchor="middle" textLength="10.06" lengthAdjust="spacingAndGlyphs">216</text>
<line x1="487.40" y1="275.6" x2="487.40" y2="278.40" stroke="#231f20" stroke-width="0.9"/>
<text x="487.40" y="287.30" font-size="6.7" fill="#231f20" text-anchor="middle" textLength="10.06" lengthAdjust="spacingAndGlyphs">240</text>
<line x1="501.06" y1="275.6" x2="501.06" y2="278.40" stroke="#231f20" stroke-width="0.9"/>
<text x="501.06" y="287.30" font-size="6.7" fill="#231f20" text-anchor="middle" textLength="10.06" lengthAdjust="spacingAndGlyphs">264</text>
<text transform="translate(319.40,228.80) rotate(-90)" font-size="8.8" fill="#231f20" text-anchor="middle" textLength="74.4" lengthAdjust="spacingAndGlyphs">Cumulative incidence of</text>
<text transform="translate(329.80,228.80) rotate(-90)" font-size="8.8" fill="#231f20" text-anchor="middle" textLength="54.5" lengthAdjust="spacingAndGlyphs">therapy failure (%)</text>
<text x="427.90" y="299.40" font-size="8.4" fill="#231f20" text-anchor="middle" textLength="44.00" lengthAdjust="spacingAndGlyphs">Time (months)</text>
<text x="363.00" y="199.60" font-size="6.4" fill="#231f20" text-anchor="start" textLength="22.00" lengthAdjust="spacingAndGlyphs"><tspan font-style="italic">P</tspan> &lt; .001</text>
<line x1="389.2" y1="185.0" x2="389.2" y2="208.8" stroke="#3c3c3c" stroke-width="1.3"/>
<line x1="392.20" y1="188.80" x2="398.20" y2="188.80" stroke="#74b070" stroke-width="1.2"/>
<text x="401.60" y="190.60" font-size="6.4" fill="#231f20" text-anchor="start" textLength="39.20" lengthAdjust="spacingAndGlyphs">Low (n = 205)</text>
<line x1="392.20" y1="196.80" x2="398.20" y2="196.80" stroke="#7cc8ec" stroke-width="1.2"/>
<text x="401.60" y="198.60" font-size="6.4" fill="#231f20" text-anchor="start" textLength="68.80" lengthAdjust="spacingAndGlyphs">Intermediate (n = 1,412)</text>
<line x1="392.20" y1="204.40" x2="398.20" y2="204.40" stroke="#b8323c" stroke-width="1.2"/>
<text x="401.60" y="206.20" font-size="6.4" fill="#231f20" text-anchor="start" textLength="35.40" lengthAdjust="spacingAndGlyphs">High (n = 86)</text>
<path d="M421.20,218.60 H423.80 V267.70 H421.20" fill="none" stroke="#231f20" stroke-width="0.9"/>
<path d="M433.80,218.60 H436.40 V250.30 H433.80" fill="none" stroke="#231f20" stroke-width="0.9"/>
<path d="M461.90,247.20 H464.50 V268.00 H461.90" fill="none" stroke="#231f20" stroke-width="0.9"/>
<text x="439.80" y="236.20" font-size="7.0" fill="#231f20" text-anchor="start" textLength="22.50" lengthAdjust="spacingAndGlyphs"><tspan font-style="italic">P</tspan> &lt; .001</text>
<text x="427.00" y="261.20" font-size="7.0" fill="#231f20" text-anchor="start" textLength="22.50" lengthAdjust="spacingAndGlyphs"><tspan font-style="italic">P</tspan> &lt; .001</text>
<text x="467.70" y="261.20" font-size="7.0" fill="#231f20" text-anchor="start" textLength="22.50" lengthAdjust="spacingAndGlyphs"><tspan font-style="italic">P</tspan> &lt; .001</text>
<text x="311.60" y="323.80" font-size="12" fill="#231f20" text-anchor="start" font-weight="bold" stroke="#231f20" stroke-width="0.25">E</text>
<text x="427.70" y="321.30" font-size="9" fill="#231f20" text-anchor="middle" textLength="111.00" lengthAdjust="spacingAndGlyphs">Sokal high-risk cohort by the</text>
<text x="427.20" y="332.00" font-size="9" fill="#231f20" text-anchor="middle" textLength="83.60" lengthAdjust="spacingAndGlyphs">new predictive model</text>
<path d="M350.60,429.00 L356.58,429.00 L356.89,386.07 L357.27,386.07 L357.52,409.56 L363.18,404.70 L373.24,401.46 L388.34,400.25 L413.50,399.84 L460.05,399.84 L460.05,429.00 L356.89,429.00 L350.60,429.00 Z" fill="#c9e5c1" fill-opacity="0.85" style="mix-blend-mode:multiply"/>
<path d="M350.60,429.00 L352.49,420.90 L355.63,409.56 L358.78,401.46 L373.24,396.60 L386.45,394.17 L407.21,389.31 L419.79,388.10 L463.82,387.85 L463.82,400.08 L419.79,400.41 L407.21,401.87 L386.45,404.30 L373.24,406.32 L358.78,410.77 L355.63,416.04 L352.49,428.19 L350.60,429.00 Z" fill="#c3e2f6" fill-opacity="0.75" style="mix-blend-mode:multiply"/>
<path d="M350.60,429.00 L351.86,420.90 L353.75,403.08 L358.59,390.93 L361.29,386.88 L366.33,382.83 L382.68,378.78 L394.00,376.35 L395.89,373.92 L399.66,371.49 L424.82,371.49 L425.89,368.65 L438.66,368.65 L438.66,378.78 L425.89,378.78 L424.82,378.38 L399.66,378.78 L395.89,380.40 L394.00,382.83 L382.68,385.26 L366.33,389.31 L361.29,394.98 L358.59,400.65 L353.75,414.42 L351.86,429.00 L350.60,429.00 Z" fill="#f3b2ae" fill-opacity="0.75" style="mix-blend-mode:multiply"/>
<polyline points="350.60,429.00 351.86,425.36 353.75,408.10 356.64,403.24 358.59,395.55 361.48,390.77 366.26,385.99 372.99,384.05 382.62,381.21 394.13,379.27 396.08,376.35 399.91,374.41 424.82,374.41 425.89,372.70 438.66,372.70" fill="none" stroke="#bb1d2c" stroke-width="1.2" stroke-linejoin="round"/>
<polyline points="350.60,429.00 352.80,425.36 355.69,411.91 358.59,406.16 363.37,403.24 372.99,401.30 386.45,399.35 398.03,397.41 409.54,394.57 421.05,393.60 463.82,393.60" fill="none" stroke="#2f9ad6" stroke-width="1.1" stroke-linejoin="round"/>
<polyline points="356.26,429.00 356.89,428.60 357.52,425.36 368.21,425.36 369.16,423.49 377.65,423.49 378.78,421.14 460.30,421.14" fill="none" stroke="#378f3d" stroke-width="1.1" stroke-linejoin="round"/>
<line x1="350.6" y1="336.7" x2="350.6" y2="429.5" stroke="#231f20" stroke-width="1.1"/>
<line x1="350.1" y1="429.0" x2="504.6" y2="429.0" stroke="#231f20" stroke-width="1.1"/>
<line x1="347.60" y1="429.00" x2="350.6" y2="429.00" stroke="#231f20" stroke-width="0.9"/>
<text x="344.70" y="431.40" font-size="6.7" fill="#231f20" text-anchor="end" textLength="3.28" lengthAdjust="spacingAndGlyphs">0</text>
<line x1="349.00" y1="420.90" x2="350.6" y2="420.90" stroke="#231f20" stroke-width="0.9"/>
<line x1="347.60" y1="412.80" x2="350.6" y2="412.80" stroke="#231f20" stroke-width="0.9"/>
<text x="344.70" y="415.20" font-size="6.7" fill="#231f20" text-anchor="end" textLength="6.56" lengthAdjust="spacingAndGlyphs">20</text>
<line x1="349.00" y1="404.70" x2="350.6" y2="404.70" stroke="#231f20" stroke-width="0.9"/>
<line x1="347.60" y1="396.60" x2="350.6" y2="396.60" stroke="#231f20" stroke-width="0.9"/>
<text x="344.70" y="399.00" font-size="6.7" fill="#231f20" text-anchor="end" textLength="6.56" lengthAdjust="spacingAndGlyphs">40</text>
<line x1="349.00" y1="388.50" x2="350.6" y2="388.50" stroke="#231f20" stroke-width="0.9"/>
<line x1="347.60" y1="380.40" x2="350.6" y2="380.40" stroke="#231f20" stroke-width="0.9"/>
<text x="344.70" y="382.80" font-size="6.7" fill="#231f20" text-anchor="end" textLength="6.56" lengthAdjust="spacingAndGlyphs">60</text>
<line x1="349.00" y1="372.30" x2="350.6" y2="372.30" stroke="#231f20" stroke-width="0.9"/>
<line x1="347.60" y1="364.20" x2="350.6" y2="364.20" stroke="#231f20" stroke-width="0.9"/>
<text x="344.70" y="366.60" font-size="6.7" fill="#231f20" text-anchor="end" textLength="6.56" lengthAdjust="spacingAndGlyphs">80</text>
<line x1="349.00" y1="356.10" x2="350.6" y2="356.10" stroke="#231f20" stroke-width="0.9"/>
<line x1="347.60" y1="348.00" x2="350.6" y2="348.00" stroke="#231f20" stroke-width="0.9"/>
<text x="344.70" y="350.40" font-size="6.7" fill="#231f20" text-anchor="end" textLength="9.84" lengthAdjust="spacingAndGlyphs">100</text>
<line x1="349.00" y1="339.90" x2="350.6" y2="339.90" stroke="#231f20" stroke-width="0.9"/>
<line x1="350.60" y1="429.0" x2="350.60" y2="431.80" stroke="#231f20" stroke-width="0.9"/>
<text x="350.60" y="440.70" font-size="6.7" fill="#231f20" text-anchor="middle" textLength="3.35" lengthAdjust="spacingAndGlyphs">0</text>
<line x1="365.70" y1="429.0" x2="365.70" y2="431.80" stroke="#231f20" stroke-width="0.9"/>
<text x="365.70" y="440.70" font-size="6.7" fill="#231f20" text-anchor="middle" textLength="6.71" lengthAdjust="spacingAndGlyphs">24</text>
<line x1="380.79" y1="429.0" x2="380.79" y2="431.80" stroke="#231f20" stroke-width="0.9"/>
<text x="380.79" y="440.70" font-size="6.7" fill="#231f20" text-anchor="middle" textLength="6.71" lengthAdjust="spacingAndGlyphs">48</text>
<line x1="395.89" y1="429.0" x2="395.89" y2="431.80" stroke="#231f20" stroke-width="0.9"/>
<text x="395.89" y="440.70" font-size="6.7" fill="#231f20" text-anchor="middle" textLength="6.71" lengthAdjust="spacingAndGlyphs">72</text>
<line x1="410.98" y1="429.0" x2="410.98" y2="431.80" stroke="#231f20" stroke-width="0.9"/>
<text x="410.98" y="440.70" font-size="6.7" fill="#231f20" text-anchor="middle" textLength="6.71" lengthAdjust="spacingAndGlyphs">96</text>
<line x1="426.08" y1="429.0" x2="426.08" y2="431.80" stroke="#231f20" stroke-width="0.9"/>
<text x="426.08" y="440.70" font-size="6.7" fill="#231f20" text-anchor="middle" textLength="10.06" lengthAdjust="spacingAndGlyphs">120</text>
<line x1="441.18" y1="429.0" x2="441.18" y2="431.80" stroke="#231f20" stroke-width="0.9"/>
<text x="441.18" y="440.70" font-size="6.7" fill="#231f20" text-anchor="middle" textLength="10.06" lengthAdjust="spacingAndGlyphs">144</text>
<line x1="456.27" y1="429.0" x2="456.27" y2="431.80" stroke="#231f20" stroke-width="0.9"/>
<text x="456.27" y="440.70" font-size="6.7" fill="#231f20" text-anchor="middle" textLength="10.06" lengthAdjust="spacingAndGlyphs">168</text>
<line x1="471.37" y1="429.0" x2="471.37" y2="431.80" stroke="#231f20" stroke-width="0.9"/>
<text x="471.37" y="440.70" font-size="6.7" fill="#231f20" text-anchor="middle" textLength="10.06" lengthAdjust="spacingAndGlyphs">192</text>
<line x1="486.46" y1="429.0" x2="486.46" y2="431.80" stroke="#231f20" stroke-width="0.9"/>
<text x="486.46" y="440.70" font-size="6.7" fill="#231f20" text-anchor="middle" textLength="10.06" lengthAdjust="spacingAndGlyphs">216</text>
<line x1="501.56" y1="429.0" x2="501.56" y2="431.80" stroke="#231f20" stroke-width="0.9"/>
<text x="501.56" y="440.70" font-size="6.7" fill="#231f20" text-anchor="middle" textLength="10.06" lengthAdjust="spacingAndGlyphs">240</text>
<text transform="translate(319.40,382.00) rotate(-90)" font-size="8.8" fill="#231f20" text-anchor="middle" textLength="74.0" lengthAdjust="spacingAndGlyphs">Cumulative incidence of</text>
<text transform="translate(329.70,382.00) rotate(-90)" font-size="8.8" fill="#231f20" text-anchor="middle" textLength="55.0" lengthAdjust="spacingAndGlyphs">therapy failure (%)</text>
<text x="427.90" y="452.80" font-size="8.4" fill="#231f20" text-anchor="middle" textLength="44.00" lengthAdjust="spacingAndGlyphs">Time (months)</text>
<text x="362.30" y="354.90" font-size="6.4" fill="#231f20" text-anchor="start" textLength="23.00" lengthAdjust="spacingAndGlyphs"><tspan font-style="italic">P</tspan> &lt; .001</text>
<line x1="389.0" y1="338.8" x2="389.0" y2="365.8" stroke="#3c3c3c" stroke-width="1.3"/>
<line x1="392.00" y1="344.00" x2="398.00" y2="344.00" stroke="#74b070" stroke-width="1.2"/>
<text x="400.80" y="345.80" font-size="6.4" fill="#231f20" text-anchor="start" textLength="36.20" lengthAdjust="spacingAndGlyphs">Low (n = 91)</text>
<line x1="392.00" y1="352.60" x2="398.00" y2="352.60" stroke="#7cc8ec" stroke-width="1.2"/>
<text x="400.80" y="354.40" font-size="6.4" fill="#231f20" text-anchor="start" textLength="65.50" lengthAdjust="spacingAndGlyphs">Intermediate (n = 432)</text>
<line x1="392.00" y1="360.90" x2="398.00" y2="360.90" stroke="#b8323c" stroke-width="1.2"/>
<text x="400.80" y="362.70" font-size="6.4" fill="#231f20" text-anchor="start" textLength="41.50" lengthAdjust="spacingAndGlyphs">High (n = 409)</text>
<path d="M434.40,373.10 H437.00 V420.30 H434.40" fill="none" stroke="#231f20" stroke-width="0.9"/>
<path d="M445.60,374.40 H448.20 V393.40 H445.60" fill="none" stroke="#231f20" stroke-width="0.9"/>
<path d="M465.50,395.50 H468.10 V420.30 H465.50" fill="none" stroke="#231f20" stroke-width="0.9"/>
<text x="451.80" y="385.80" font-size="7.0" fill="#231f20" text-anchor="start" textLength="22.50" lengthAdjust="spacingAndGlyphs"><tspan font-style="italic">P</tspan> &lt; .001</text>
<text x="441.30" y="410.10" font-size="7.0" fill="#231f20" text-anchor="start" textLength="22.50" lengthAdjust="spacingAndGlyphs"><tspan font-style="italic">P</tspan> &lt; .001</text>
<text x="472.00" y="410.10" font-size="7.0" fill="#231f20" text-anchor="start" textLength="22.50" lengthAdjust="spacingAndGlyphs"><tspan font-style="italic">P</tspan> = .001</text>
<text x="7.60" y="480.00" font-size="12" fill="#231f20" text-anchor="start" font-weight="bold" stroke="#231f20" stroke-width="0.25">F</text>
<text x="105.70" y="477.70" font-size="9" fill="#231f20" text-anchor="middle" textLength="103.70" lengthAdjust="spacingAndGlyphs">ELTS low-risk cohort by the</text>
<text x="105.90" y="489.00" font-size="9" fill="#231f20" text-anchor="middle" textLength="83.20" lengthAdjust="spacingAndGlyphs">new predictive model</text>
<path d="M46.30,567.60 L49.21,560.11 L52.79,552.31 L60.16,550.13 L78.52,547.01 L86.52,544.82 L101.54,544.32 L139.63,544.51 L139.63,548.26 L101.54,548.07 L86.52,548.57 L78.52,550.75 L60.16,553.56 L52.79,556.06 L49.21,563.86 L46.30,567.60 Z" fill="#c3e2f6" fill-opacity="0.75" style="mix-blend-mode:multiply"/>
<path d="M46.30,567.60 L54.39,562.92 L66.94,561.05 L89.91,559.18 L144.19,558.99 L144.19,562.92 L89.91,562.92 L66.94,564.17 L54.39,565.73 L46.30,567.60 Z" fill="#c9e5c1" fill-opacity="0.75" style="mix-blend-mode:multiply"/>
<polyline points="46.30,567.60 46.78,566.73 49.21,560.11 52.79,554.12 60.16,551.81 70.53,550.25 78.52,548.88 86.52,546.76 101.54,546.20 139.63,546.38" fill="none" stroke="#2f9ad6" stroke-width="1.1" stroke-linejoin="round"/>
<polyline points="46.30,567.60 48.72,566.35 54.39,564.48 66.94,562.61 89.91,561.05 144.19,561.05" fill="none" stroke="#378f3d" stroke-width="1.1" stroke-linejoin="round"/>
<line x1="46.3" y1="496.3" x2="46.3" y2="568.1" stroke="#231f20" stroke-width="1.1"/>
<line x1="45.8" y1="567.6" x2="164.8" y2="567.6" stroke="#231f20" stroke-width="1.1"/>
<line x1="43.30" y1="567.60" x2="46.3" y2="567.60" stroke="#231f20" stroke-width="0.9"/>
<text x="40.40" y="570.00" font-size="6.7" fill="#231f20" text-anchor="end" textLength="3.28" lengthAdjust="spacingAndGlyphs">0</text>
<line x1="44.70" y1="561.36" x2="46.3" y2="561.36" stroke="#231f20" stroke-width="0.9"/>
<line x1="43.30" y1="555.12" x2="46.3" y2="555.12" stroke="#231f20" stroke-width="0.9"/>
<text x="40.40" y="557.52" font-size="6.7" fill="#231f20" text-anchor="end" textLength="6.56" lengthAdjust="spacingAndGlyphs">20</text>
<line x1="44.70" y1="548.88" x2="46.3" y2="548.88" stroke="#231f20" stroke-width="0.9"/>
<line x1="43.30" y1="542.64" x2="46.3" y2="542.64" stroke="#231f20" stroke-width="0.9"/>
<text x="40.40" y="545.04" font-size="6.7" fill="#231f20" text-anchor="end" textLength="6.56" lengthAdjust="spacingAndGlyphs">40</text>
<line x1="44.70" y1="536.40" x2="46.3" y2="536.40" stroke="#231f20" stroke-width="0.9"/>
<line x1="43.30" y1="530.16" x2="46.3" y2="530.16" stroke="#231f20" stroke-width="0.9"/>
<text x="40.40" y="532.56" font-size="6.7" fill="#231f20" text-anchor="end" textLength="6.56" lengthAdjust="spacingAndGlyphs">60</text>
<line x1="44.70" y1="523.92" x2="46.3" y2="523.92" stroke="#231f20" stroke-width="0.9"/>
<line x1="43.30" y1="517.68" x2="46.3" y2="517.68" stroke="#231f20" stroke-width="0.9"/>
<text x="40.40" y="520.08" font-size="6.7" fill="#231f20" text-anchor="end" textLength="6.56" lengthAdjust="spacingAndGlyphs">80</text>
<line x1="44.70" y1="511.44" x2="46.3" y2="511.44" stroke="#231f20" stroke-width="0.9"/>
<line x1="43.30" y1="505.20" x2="46.3" y2="505.20" stroke="#231f20" stroke-width="0.9"/>
<text x="40.40" y="507.60" font-size="6.7" fill="#231f20" text-anchor="end" textLength="9.84" lengthAdjust="spacingAndGlyphs">100</text>
<line x1="44.70" y1="498.96" x2="46.3" y2="498.96" stroke="#231f20" stroke-width="0.9"/>
<line x1="46.30" y1="567.6" x2="46.30" y2="570.40" stroke="#231f20" stroke-width="0.9"/>
<text transform="translate(50.00,577.80) rotate(-45)" font-size="6.9" fill="#231f20" text-anchor="end">0</text>
<line x1="57.93" y1="567.6" x2="57.93" y2="570.40" stroke="#231f20" stroke-width="0.9"/>
<text transform="translate(61.63,577.80) rotate(-45)" font-size="6.9" fill="#231f20" text-anchor="end">24</text>
<line x1="69.56" y1="567.6" x2="69.56" y2="570.40" stroke="#231f20" stroke-width="0.9"/>
<text transform="translate(73.26,577.80) rotate(-45)" font-size="6.9" fill="#231f20" text-anchor="end">48</text>
<line x1="81.19" y1="567.6" x2="81.19" y2="570.40" stroke="#231f20" stroke-width="0.9"/>
<text transform="translate(84.89,577.80) rotate(-45)" font-size="6.9" fill="#231f20" text-anchor="end">72</text>
<line x1="92.82" y1="567.6" x2="92.82" y2="570.40" stroke="#231f20" stroke-width="0.9"/>
<text transform="translate(96.52,577.80) rotate(-45)" font-size="6.9" fill="#231f20" text-anchor="end">96</text>
<line x1="104.45" y1="567.6" x2="104.45" y2="570.40" stroke="#231f20" stroke-width="0.9"/>
<text transform="translate(108.15,577.80) rotate(-45)" font-size="6.9" fill="#231f20" text-anchor="end">120</text>
<line x1="116.08" y1="567.6" x2="116.08" y2="570.40" stroke="#231f20" stroke-width="0.9"/>
<text transform="translate(119.78,577.80) rotate(-45)" font-size="6.9" fill="#231f20" text-anchor="end">144</text>
<line x1="127.71" y1="567.6" x2="127.71" y2="570.40" stroke="#231f20" stroke-width="0.9"/>
<text transform="translate(131.41,577.80) rotate(-45)" font-size="6.9" fill="#231f20" text-anchor="end">168</text>
<line x1="139.34" y1="567.6" x2="139.34" y2="570.40" stroke="#231f20" stroke-width="0.9"/>
<text transform="translate(143.04,577.80) rotate(-45)" font-size="6.9" fill="#231f20" text-anchor="end">192</text>
<line x1="150.97" y1="567.6" x2="150.97" y2="570.40" stroke="#231f20" stroke-width="0.9"/>
<text transform="translate(154.67,577.80) rotate(-45)" font-size="6.9" fill="#231f20" text-anchor="end">216</text>
<line x1="162.60" y1="567.6" x2="162.60" y2="570.40" stroke="#231f20" stroke-width="0.9"/>
<text transform="translate(166.30,577.80) rotate(-45)" font-size="6.9" fill="#231f20" text-anchor="end">240</text>
<text transform="translate(14.80,530.80) rotate(-90)" font-size="8.8" fill="#231f20" text-anchor="middle" textLength="72.8" lengthAdjust="spacingAndGlyphs">Cumulative incidence of</text>
<text transform="translate(24.40,530.80) rotate(-90)" font-size="8.8" fill="#231f20" text-anchor="middle" textLength="56.0" lengthAdjust="spacingAndGlyphs">therapy failure (%)</text>
<text x="106.20" y="597.30" font-size="8.4" fill="#231f20" text-anchor="middle" textLength="43.20" lengthAdjust="spacingAndGlyphs">Time (months)</text>
<text x="51.20" y="511.80" font-size="6.4" fill="#231f20" text-anchor="start" textLength="22.00" lengthAdjust="spacingAndGlyphs"><tspan font-style="italic">P</tspan> &lt; .001</text>
<line x1="77.5" y1="502.7" x2="77.5" y2="517.5" stroke="#3c3c3c" stroke-width="1.3"/>
<line x1="80.50" y1="507.00" x2="86.50" y2="507.00" stroke="#74b070" stroke-width="1.2"/>
<text x="87.50" y="508.80" font-size="6.4" fill="#231f20" text-anchor="start" textLength="45.50" lengthAdjust="spacingAndGlyphs">Low (n = 1,864)</text>
<line x1="80.50" y1="515.00" x2="86.50" y2="515.00" stroke="#7cc8ec" stroke-width="1.2"/>
<text x="87.50" y="516.80" font-size="6.4" fill="#231f20" text-anchor="start" textLength="64.50" lengthAdjust="spacingAndGlyphs">Intermediate and high</text>
<text x="87.50" y="524.30" font-size="6.4" fill="#231f20" text-anchor="start" textLength="30.50" lengthAdjust="spacingAndGlyphs">(n = 1,452)</text>
<text x="180.00" y="480.00" font-size="12" fill="#231f20" text-anchor="start" font-weight="bold" stroke="#231f20" stroke-width="0.25">G</text>
<text x="279.40" y="477.70" font-size="9" fill="#231f20" text-anchor="middle" textLength="113.70" lengthAdjust="spacingAndGlyphs">ELTS intermediate-risk cohort</text>
<text x="278.10" y="489.00" font-size="9" fill="#231f20" text-anchor="middle" textLength="108.70" lengthAdjust="spacingAndGlyphs">by the new predictive model</text>
<path d="M219.50,568.00 L223.83,552.95 L227.39,548.81 L251.65,544.93 L298.91,542.92 L299.15,537.28 L320.47,537.28 L320.47,549.57 L299.15,549.57 L298.91,548.19 L251.65,550.44 L227.39,554.58 L223.83,557.34 L219.50,568.00 Z" fill="#c3e2f6" fill-opacity="0.75" style="mix-blend-mode:multiply"/>
<path d="M219.50,568.00 L220.46,555.46 L222.87,544.80 L226.19,538.53 L237.79,529.75 L265.51,528.81 L265.99,524.74 L285.14,524.74 L285.14,535.08 L265.99,535.08 L265.51,535.08 L237.79,537.90 L226.19,546.43 L222.87,555.46 L220.46,562.98 L219.50,568.00 Z" fill="#f3b2ae" fill-opacity="0.75" style="mix-blend-mode:multiply"/>
<polyline points="219.50,568.00 220.46,559.22 222.82,550.01 226.19,543.11 229.70,538.53 234.32,536.21 237.79,533.39 251.65,531.07 265.51,530.38 265.99,528.81 285.14,528.81" fill="none" stroke="#bb1d2c" stroke-width="1.2" stroke-linejoin="round"/>
<polyline points="219.50,568.00 220.46,562.67 223.88,554.58 227.39,551.82 235.48,550.01 251.65,548.19 267.82,546.81 279.32,545.80 298.91,545.80 299.15,543.67 320.47,543.67" fill="none" stroke="#2f9ad6" stroke-width="1.1" stroke-linejoin="round"/>
<line x1="219.5" y1="496.0" x2="219.5" y2="568.5" stroke="#231f20" stroke-width="1.1"/>
<line x1="219.0" y1="568.0" x2="337.2" y2="568.0" stroke="#231f20" stroke-width="1.1"/>
<line x1="216.50" y1="568.00" x2="219.5" y2="568.00" stroke="#231f20" stroke-width="0.9"/>
<text x="213.60" y="570.40" font-size="6.7" fill="#231f20" text-anchor="end" textLength="3.28" lengthAdjust="spacingAndGlyphs">0</text>
<line x1="217.90" y1="561.73" x2="219.5" y2="561.73" stroke="#231f20" stroke-width="0.9"/>
<line x1="216.50" y1="555.46" x2="219.5" y2="555.46" stroke="#231f20" stroke-width="0.9"/>
<text x="213.60" y="557.86" font-size="6.7" fill="#231f20" text-anchor="end" textLength="6.56" lengthAdjust="spacingAndGlyphs">20</text>
<line x1="217.90" y1="549.19" x2="219.5" y2="549.19" stroke="#231f20" stroke-width="0.9"/>
<line x1="216.50" y1="542.92" x2="219.5" y2="542.92" stroke="#231f20" stroke-width="0.9"/>
<text x="213.60" y="545.32" font-size="6.7" fill="#231f20" text-anchor="end" textLength="6.56" lengthAdjust="spacingAndGlyphs">40</text>
<line x1="217.90" y1="536.65" x2="219.5" y2="536.65" stroke="#231f20" stroke-width="0.9"/>
<line x1="216.50" y1="530.38" x2="219.5" y2="530.38" stroke="#231f20" stroke-width="0.9"/>
<text x="213.60" y="532.78" font-size="6.7" fill="#231f20" text-anchor="end" textLength="6.56" lengthAdjust="spacingAndGlyphs">60</text>
<line x1="217.90" y1="524.11" x2="219.5" y2="524.11" stroke="#231f20" stroke-width="0.9"/>
<line x1="216.50" y1="517.84" x2="219.5" y2="517.84" stroke="#231f20" stroke-width="0.9"/>
<text x="213.60" y="520.24" font-size="6.7" fill="#231f20" text-anchor="end" textLength="6.56" lengthAdjust="spacingAndGlyphs">80</text>
<line x1="217.90" y1="511.57" x2="219.5" y2="511.57" stroke="#231f20" stroke-width="0.9"/>
<line x1="216.50" y1="505.30" x2="219.5" y2="505.30" stroke="#231f20" stroke-width="0.9"/>
<text x="213.60" y="507.70" font-size="6.7" fill="#231f20" text-anchor="end" textLength="9.84" lengthAdjust="spacingAndGlyphs">100</text>
<line x1="217.90" y1="499.03" x2="219.5" y2="499.03" stroke="#231f20" stroke-width="0.9"/>
<line x1="219.50" y1="568.0" x2="219.50" y2="570.80" stroke="#231f20" stroke-width="0.9"/>
<text transform="translate(223.20,578.20) rotate(-45)" font-size="6.9" fill="#231f20" text-anchor="end">0</text>
<line x1="231.05" y1="568.0" x2="231.05" y2="570.80" stroke="#231f20" stroke-width="0.9"/>
<text transform="translate(234.75,578.20) rotate(-45)" font-size="6.9" fill="#231f20" text-anchor="end">24</text>
<line x1="242.60" y1="568.0" x2="242.60" y2="570.80" stroke="#231f20" stroke-width="0.9"/>
<text transform="translate(246.30,578.20) rotate(-45)" font-size="6.9" fill="#231f20" text-anchor="end">48</text>
<line x1="254.15" y1="568.0" x2="254.15" y2="570.80" stroke="#231f20" stroke-width="0.9"/>
<text transform="translate(257.85,578.20) rotate(-45)" font-size="6.9" fill="#231f20" text-anchor="end">72</text>
<line x1="265.70" y1="568.0" x2="265.70" y2="570.80" stroke="#231f20" stroke-width="0.9"/>
<text transform="translate(269.40,578.20) rotate(-45)" font-size="6.9" fill="#231f20" text-anchor="end">96</text>
<line x1="277.25" y1="568.0" x2="277.25" y2="570.80" stroke="#231f20" stroke-width="0.9"/>
<text transform="translate(280.95,578.20) rotate(-45)" font-size="6.9" fill="#231f20" text-anchor="end">120</text>
<line x1="288.80" y1="568.0" x2="288.80" y2="570.80" stroke="#231f20" stroke-width="0.9"/>
<text transform="translate(292.50,578.20) rotate(-45)" font-size="6.9" fill="#231f20" text-anchor="end">144</text>
<line x1="300.35" y1="568.0" x2="300.35" y2="570.80" stroke="#231f20" stroke-width="0.9"/>
<text transform="translate(304.05,578.20) rotate(-45)" font-size="6.9" fill="#231f20" text-anchor="end">168</text>
<line x1="311.90" y1="568.0" x2="311.90" y2="570.80" stroke="#231f20" stroke-width="0.9"/>
<text transform="translate(315.60,578.20) rotate(-45)" font-size="6.9" fill="#231f20" text-anchor="end">192</text>
<line x1="323.45" y1="568.0" x2="323.45" y2="570.80" stroke="#231f20" stroke-width="0.9"/>
<text transform="translate(327.15,578.20) rotate(-45)" font-size="6.9" fill="#231f20" text-anchor="end">216</text>
<line x1="335.00" y1="568.0" x2="335.00" y2="570.80" stroke="#231f20" stroke-width="0.9"/>
<text transform="translate(338.70,578.20) rotate(-45)" font-size="6.9" fill="#231f20" text-anchor="end">240</text>
<text transform="translate(188.40,531.70) rotate(-90)" font-size="8.8" fill="#231f20" text-anchor="middle" textLength="72.4" lengthAdjust="spacingAndGlyphs">Cumulative incidence of</text>
<text transform="translate(197.70,531.70) rotate(-90)" font-size="8.8" fill="#231f20" text-anchor="middle" textLength="55.0" lengthAdjust="spacingAndGlyphs">therapy failure (%)</text>
<text x="278.70" y="597.30" font-size="8.4" fill="#231f20" text-anchor="middle" textLength="43.20" lengthAdjust="spacingAndGlyphs">Time (months)</text>
<text x="226.30" y="506.30" font-size="6.4" fill="#231f20" text-anchor="start" textLength="21.80" lengthAdjust="spacingAndGlyphs"><tspan font-style="italic">P</tspan> &lt; .001</text>
<line x1="252.5" y1="493.3" x2="252.5" y2="515.0" stroke="#3c3c3c" stroke-width="1.3"/>
<line x1="255.50" y1="496.30" x2="261.50" y2="496.30" stroke="#7cc8ec" stroke-width="1.2"/>
<text x="263.00" y="498.10" font-size="6.4" fill="#231f20" text-anchor="start" textLength="62.50" lengthAdjust="spacingAndGlyphs">Low and intermediate</text>
<text x="265.00" y="504.00" font-size="6.4" fill="#231f20" text-anchor="start" textLength="30.50" lengthAdjust="spacingAndGlyphs">(n = 1,061)</text>
<line x1="255.50" y1="512.50" x2="261.50" y2="512.50" stroke="#b8323c" stroke-width="1.2"/>
<text x="263.00" y="514.30" font-size="6.4" fill="#231f20" text-anchor="start" textLength="40.70" lengthAdjust="spacingAndGlyphs">High (n = 196)</text>
<text x="352.40" y="480.00" font-size="12" fill="#231f20" text-anchor="start" font-weight="bold" stroke="#231f20" stroke-width="0.25">H</text>
<text x="448.10" y="477.70" font-size="9" fill="#231f20" text-anchor="middle" textLength="86.30" lengthAdjust="spacingAndGlyphs">ELTS high-risk cohort by</text>
<text x="451.00" y="489.00" font-size="9" fill="#231f20" text-anchor="middle" textLength="98.00" lengthAdjust="spacingAndGlyphs">the new predictive model</text>
<path d="M392.60,567.30 L397.43,548.40 L402.70,540.52 L413.29,537.06 L438.71,535.80 L438.95,530.76 L487.33,530.76 L487.33,552.81 L438.71,552.81 L413.29,553.06 L402.70,553.06 L397.43,559.74 L392.60,567.30 Z" fill="#c3e2f6" fill-opacity="0.75" style="mix-blend-mode:multiply"/>
<path d="M392.60,567.30 L393.18,555.96 L395.31,545.88 L398.50,538.95 L401.59,536.43 L429.09,531.08 L449.15,530.76 L450.31,522.57 L469.31,522.57 L469.31,536.75 L450.31,536.75 L449.15,536.75 L429.09,537.69 L401.59,542.98 L398.50,546.51 L395.31,554.70 L393.18,563.52 L392.60,567.30 Z" fill="#f3b2ae" fill-opacity="0.75" style="mix-blend-mode:multiply"/>
<polyline points="392.60,567.30 393.18,559.42 395.31,549.91 398.50,542.48 401.59,540.02 411.21,537.82 425.95,536.18 427.40,534.54 429.09,533.60 449.15,533.03 450.31,528.81 469.31,528.81" fill="none" stroke="#bb1d2c" stroke-width="1.2" stroke-linejoin="round"/>
<polyline points="392.60,567.30 393.18,564.78 397.43,553.12 402.70,548.78 413.29,546.32 438.71,546.32 439.00,541.34 487.33,541.34" fill="none" stroke="#2f9ad6" stroke-width="1.1" stroke-linejoin="round"/>
<line x1="392.6" y1="496.0" x2="392.6" y2="567.8" stroke="#231f20" stroke-width="1.1"/>
<line x1="392.1" y1="567.3" x2="509.6" y2="567.3" stroke="#231f20" stroke-width="1.1"/>
<line x1="389.60" y1="567.30" x2="392.6" y2="567.30" stroke="#231f20" stroke-width="0.9"/>
<text x="386.70" y="569.70" font-size="6.7" fill="#231f20" text-anchor="end" textLength="3.28" lengthAdjust="spacingAndGlyphs">0</text>
<line x1="391.00" y1="561.00" x2="392.6" y2="561.00" stroke="#231f20" stroke-width="0.9"/>
<line x1="389.60" y1="554.70" x2="392.6" y2="554.70" stroke="#231f20" stroke-width="0.9"/>
<text x="386.70" y="557.10" font-size="6.7" fill="#231f20" text-anchor="end" textLength="6.56" lengthAdjust="spacingAndGlyphs">20</text>
<line x1="391.00" y1="548.40" x2="392.6" y2="548.40" stroke="#231f20" stroke-width="0.9"/>
<line x1="389.60" y1="542.10" x2="392.6" y2="542.10" stroke="#231f20" stroke-width="0.9"/>
<text x="386.70" y="544.50" font-size="6.7" fill="#231f20" text-anchor="end" textLength="6.56" lengthAdjust="spacingAndGlyphs">40</text>
<line x1="391.00" y1="535.80" x2="392.6" y2="535.80" stroke="#231f20" stroke-width="0.9"/>
<line x1="389.60" y1="529.50" x2="392.6" y2="529.50" stroke="#231f20" stroke-width="0.9"/>
<text x="386.70" y="531.90" font-size="6.7" fill="#231f20" text-anchor="end" textLength="6.56" lengthAdjust="spacingAndGlyphs">60</text>
<line x1="391.00" y1="523.20" x2="392.6" y2="523.20" stroke="#231f20" stroke-width="0.9"/>
<line x1="389.60" y1="516.90" x2="392.6" y2="516.90" stroke="#231f20" stroke-width="0.9"/>
<text x="386.70" y="519.30" font-size="6.7" fill="#231f20" text-anchor="end" textLength="6.56" lengthAdjust="spacingAndGlyphs">80</text>
<line x1="391.00" y1="510.60" x2="392.6" y2="510.60" stroke="#231f20" stroke-width="0.9"/>
<line x1="389.60" y1="504.30" x2="392.6" y2="504.30" stroke="#231f20" stroke-width="0.9"/>
<text x="386.70" y="506.70" font-size="6.7" fill="#231f20" text-anchor="end" textLength="9.84" lengthAdjust="spacingAndGlyphs">100</text>
<line x1="391.00" y1="498.00" x2="392.6" y2="498.00" stroke="#231f20" stroke-width="0.9"/>
<line x1="392.60" y1="567.3" x2="392.60" y2="570.10" stroke="#231f20" stroke-width="0.9"/>
<text transform="translate(396.30,577.50) rotate(-45)" font-size="6.9" fill="#231f20" text-anchor="end">0</text>
<line x1="404.20" y1="567.3" x2="404.20" y2="570.10" stroke="#231f20" stroke-width="0.9"/>
<text transform="translate(407.90,577.50) rotate(-45)" font-size="6.9" fill="#231f20" text-anchor="end">24</text>
<line x1="415.80" y1="567.3" x2="415.80" y2="570.10" stroke="#231f20" stroke-width="0.9"/>
<text transform="translate(419.50,577.50) rotate(-45)" font-size="6.9" fill="#231f20" text-anchor="end">48</text>
<line x1="427.40" y1="567.3" x2="427.40" y2="570.10" stroke="#231f20" stroke-width="0.9"/>
<text transform="translate(431.10,577.50) rotate(-45)" font-size="6.9" fill="#231f20" text-anchor="end">72</text>
<line x1="439.00" y1="567.3" x2="439.00" y2="570.10" stroke="#231f20" stroke-width="0.9"/>
<text transform="translate(442.70,577.50) rotate(-45)" font-size="6.9" fill="#231f20" text-anchor="end">96</text>
<line x1="450.60" y1="567.3" x2="450.60" y2="570.10" stroke="#231f20" stroke-width="0.9"/>
<text transform="translate(454.30,577.50) rotate(-45)" font-size="6.9" fill="#231f20" text-anchor="end">120</text>
<line x1="462.20" y1="567.3" x2="462.20" y2="570.10" stroke="#231f20" stroke-width="0.9"/>
<text transform="translate(465.90,577.50) rotate(-45)" font-size="6.9" fill="#231f20" text-anchor="end">144</text>
<line x1="473.80" y1="567.3" x2="473.80" y2="570.10" stroke="#231f20" stroke-width="0.9"/>
<text transform="translate(477.50,577.50) rotate(-45)" font-size="6.9" fill="#231f20" text-anchor="end">168</text>
<line x1="485.40" y1="567.3" x2="485.40" y2="570.10" stroke="#231f20" stroke-width="0.9"/>
<text transform="translate(489.10,577.50) rotate(-45)" font-size="6.9" fill="#231f20" text-anchor="end">192</text>
<line x1="497.00" y1="567.3" x2="497.00" y2="570.10" stroke="#231f20" stroke-width="0.9"/>
<text transform="translate(500.70,577.50) rotate(-45)" font-size="6.9" fill="#231f20" text-anchor="end">216</text>
<line x1="508.60" y1="567.3" x2="508.60" y2="570.10" stroke="#231f20" stroke-width="0.9"/>
<text transform="translate(512.30,577.50) rotate(-45)" font-size="6.9" fill="#231f20" text-anchor="end">240</text>
<text transform="translate(361.40,535.90) rotate(-90)" font-size="8.8" fill="#231f20" text-anchor="middle" textLength="73.3" lengthAdjust="spacingAndGlyphs">Cumulative incidence of</text>
<text transform="translate(370.50,535.90) rotate(-90)" font-size="8.8" fill="#231f20" text-anchor="middle" textLength="55.5" lengthAdjust="spacingAndGlyphs">therapy failure (%)</text>
<text x="451.10" y="597.30" font-size="8.4" fill="#231f20" text-anchor="middle" textLength="43.20" lengthAdjust="spacingAndGlyphs">Time (months)</text>
<text x="397.00" y="510.60" font-size="6.4" fill="#231f20" text-anchor="start" textLength="21.00" lengthAdjust="spacingAndGlyphs"><tspan font-style="italic">P</tspan> &lt; .001</text>
<line x1="422.5" y1="497.0" x2="422.5" y2="519.5" stroke="#3c3c3c" stroke-width="1.3"/>
<line x1="425.50" y1="500.00" x2="431.50" y2="500.00" stroke="#7cc8ec" stroke-width="1.2"/>
<text x="433.00" y="501.80" font-size="6.4" fill="#231f20" text-anchor="start" textLength="62.50" lengthAdjust="spacingAndGlyphs">Low and intermediate</text>
<text x="435.00" y="509.30" font-size="6.4" fill="#231f20" text-anchor="start" textLength="25.00" lengthAdjust="spacingAndGlyphs">(n = 109)</text>
<line x1="425.50" y1="515.30" x2="431.50" y2="515.30" stroke="#b8323c" stroke-width="1.2"/>
<text x="433.00" y="517.10" font-size="6.4" fill="#231f20" text-anchor="start" textLength="40.70" lengthAdjust="spacingAndGlyphs">High (n = 293)</text>
<rect x="0.5" y="0.5" width="519" height="605" fill="none" stroke="#4d4d4d" stroke-width="1"/>
</svg>
</body></html>
